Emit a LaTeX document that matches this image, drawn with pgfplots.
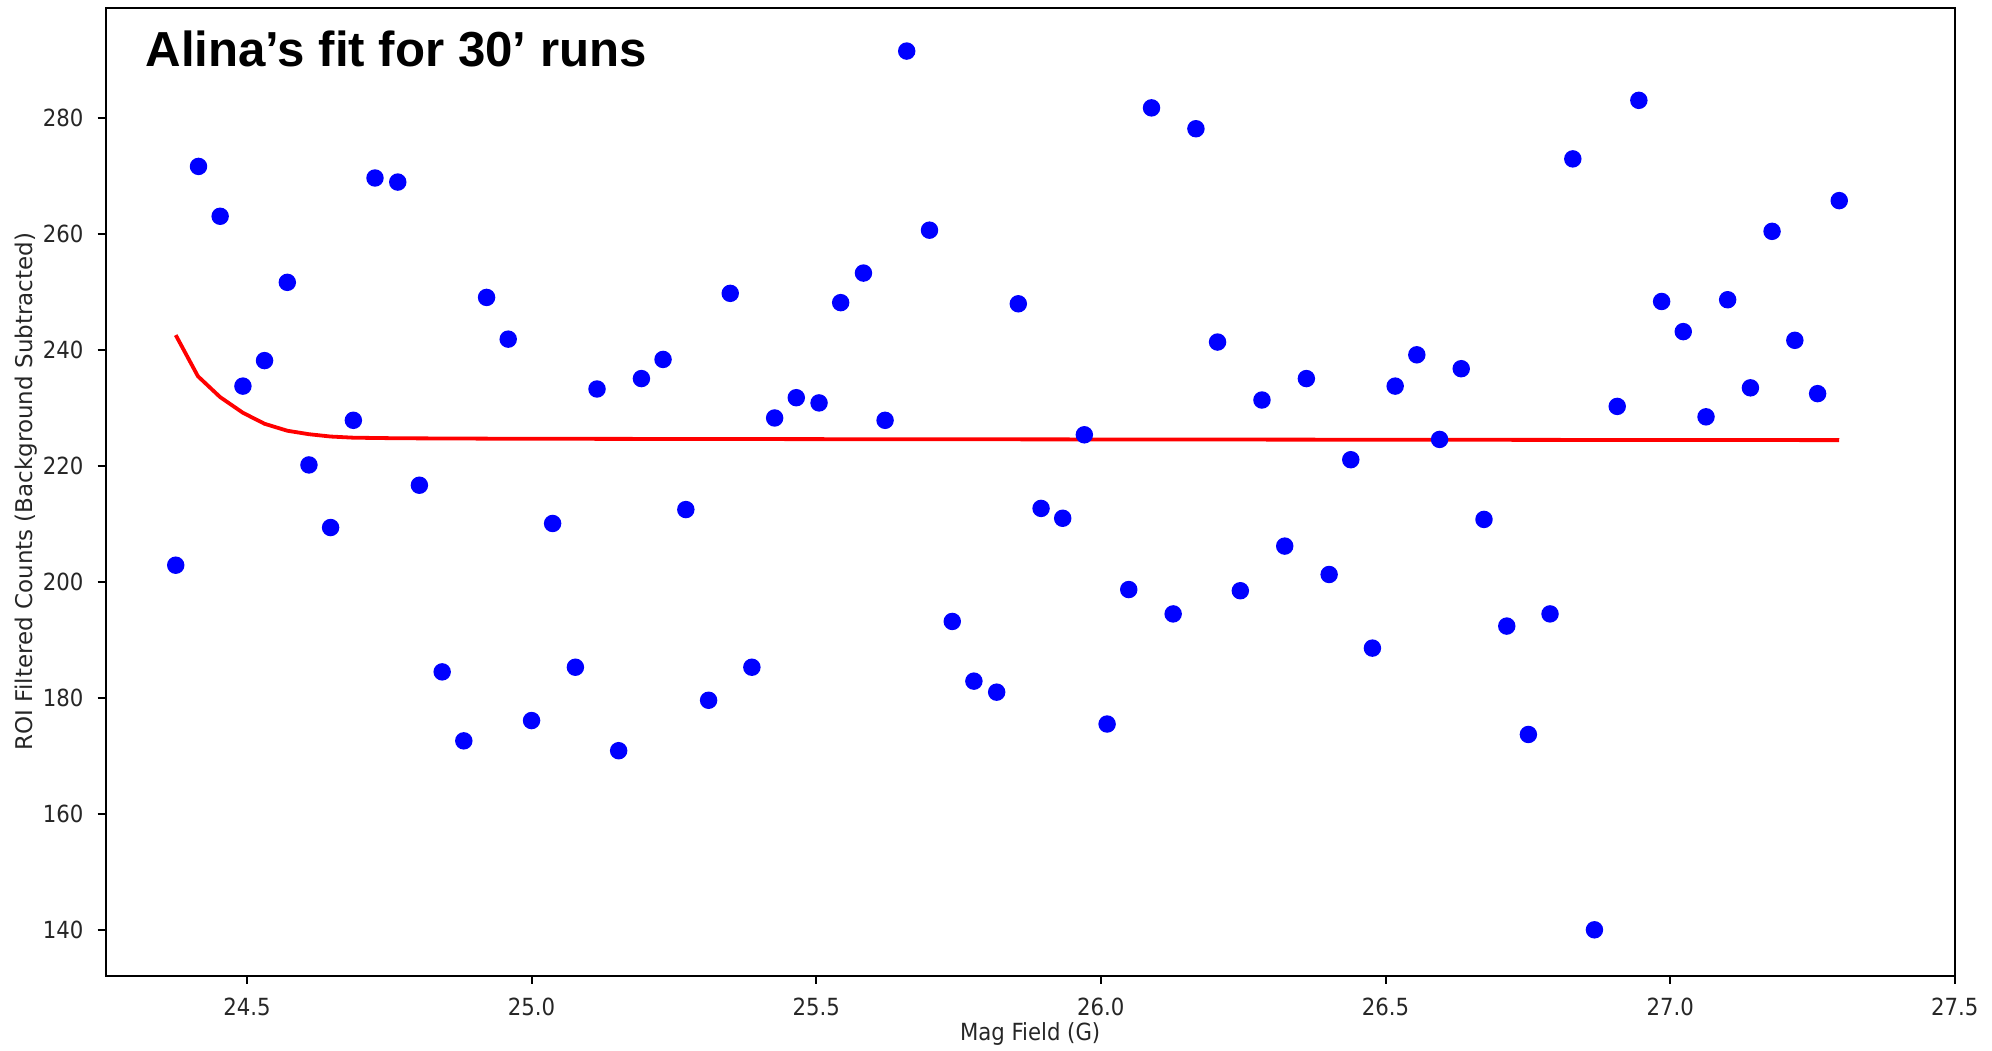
\documentclass[border=0pt]{standalone}
\usepackage{pgfplots}
\pgfplotsset{compat=1.18}
\usepackage{fontspec}
\setmainfont{DejaVu Sans}
\newfontfamily\dvc{DejaVu Sans Condensed}
\newfontfamily\dv{DejaVu Sans}
\newfontfamily\titlefont{Liberation Sans}
\definecolor{mplblue}{RGB}{0,0,255}
\definecolor{mplred}{RGB}{255,0,0}
\begin{document}
\begin{tikzpicture}
\begin{axis}[
  scale only axis,
  width=462.3pt, height=242.0pt,
  xmin=24.2518, xmax=27.5,
  ymin=132.1, ymax=299.1,
  xtick={24.5,25.0,25.5,26.0,26.5,27.0,27.5},
  ytick={140,160,180,200,220,240,260,280},
  xticklabels={24.5,25.0,25.5,26.0,26.5,27.0,27.5},
  tick align=outside,
  tick pos=left,
  major tick length=2pt,
  axis line style={line width=0.5pt},
  every tick/.style={black, line width=0.5pt},
  /pgf/number format/assume math mode=true,
  ticklabel style={font=\dvc\fontsize{5.9}{7}\selectfont, text=black!85},
  xlabel={Mag Field (G)},
  ylabel={ROI Filtered Counts (Background Subtracted)},
  xlabel style={font=\dvc\fontsize{5.9}{7}\selectfont, text=black!85, at={(axis description cs:0.5,0)}, anchor=center, yshift=-14.6pt},
  ylabel style={font=\dv\fontsize{5.75}{7}\selectfont, text=black!85, at={(axis description cs:0,0.5)}, anchor=center, yshift=19.9pt},
  clip=false,
]
\addplot[only marks, mark=*, mark size=1.98pt, mplblue, mark options={draw=mplblue, fill=mplblue}] coordinates {
(24.375,202.9) (24.415,271.7) (24.453,263.1) (24.493,233.8) (24.531,238.2)
(24.571,251.7) (24.609,220.2) (24.647,209.4) (24.687,227.9) (24.725,269.7)
(24.765,269.0) (24.803,216.7) (24.843,184.5) (24.881,172.6) (24.921,249.1)
(24.959,241.9) (25.000,176.1) (25.037,210.1) (25.077,185.3) (25.115,233.3)
(25.153,170.9) (25.193,235.1) (25.231,238.4) (25.271,212.5) (25.311,179.6)
(25.349,249.8) (25.387,185.3) (25.427,228.3) (25.465,231.8) (25.505,230.9)
(25.543,248.2) (25.583,253.3) (25.621,227.9) (25.659,291.6) (25.699,260.7)
(25.739,193.2) (25.777,182.9) (25.817,181.0) (25.855,248.0) (25.895,212.7)
(25.933,211.0) (25.971,225.4) (26.011,175.5) (26.049,198.7) (26.089,281.8)
(26.127,194.5) (26.167,278.2) (26.205,241.4) (26.245,198.5) (26.283,231.4)
(26.323,206.2) (26.361,235.1) (26.401,201.3) (26.439,221.1) (26.477,188.6)
(26.517,233.8) (26.555,239.2) (26.595,224.6) (26.633,236.8) (26.673,210.8)
(26.713,192.4) (26.751,173.7) (26.789,194.5) (26.829,273.0) (26.867,140.0)
(26.907,230.3) (26.945,283.1) (26.985,248.4) (27.023,243.2) (27.063,228.5)
(27.101,248.7) (27.141,233.5) (27.179,260.5) (27.219,241.7) (27.259,232.5)
(27.297,265.8)
};
\addplot[mplred, line width=0.95pt, no marks] coordinates {
(24.375,242.6) (24.414,235.5) (24.453,231.9) (24.493,229.2) (24.531,227.3)
(24.571,226.1) (24.609,225.5) (24.647,225.1) (24.687,224.9) (24.765,224.8)
(24.959,224.72) (25.5,224.65) (26.0,224.6) (26.5,224.55) (27.0,224.5) (27.297,224.48)
};
\node[anchor=base west, inner sep=0pt, font=\titlefont\bfseries\fontsize{12.3}{14}\selectfont] at ([xshift=9.8pt, yshift=-14.8pt]rel axis cs:0,1) {Alina’s fit for 30’ runs};
\end{axis}
\pgfresetboundingbox
\path[use as bounding box] (-26.4pt,-18.8pt) rectangle (471.6pt,243.9pt);
\end{tikzpicture}
\end{document}
